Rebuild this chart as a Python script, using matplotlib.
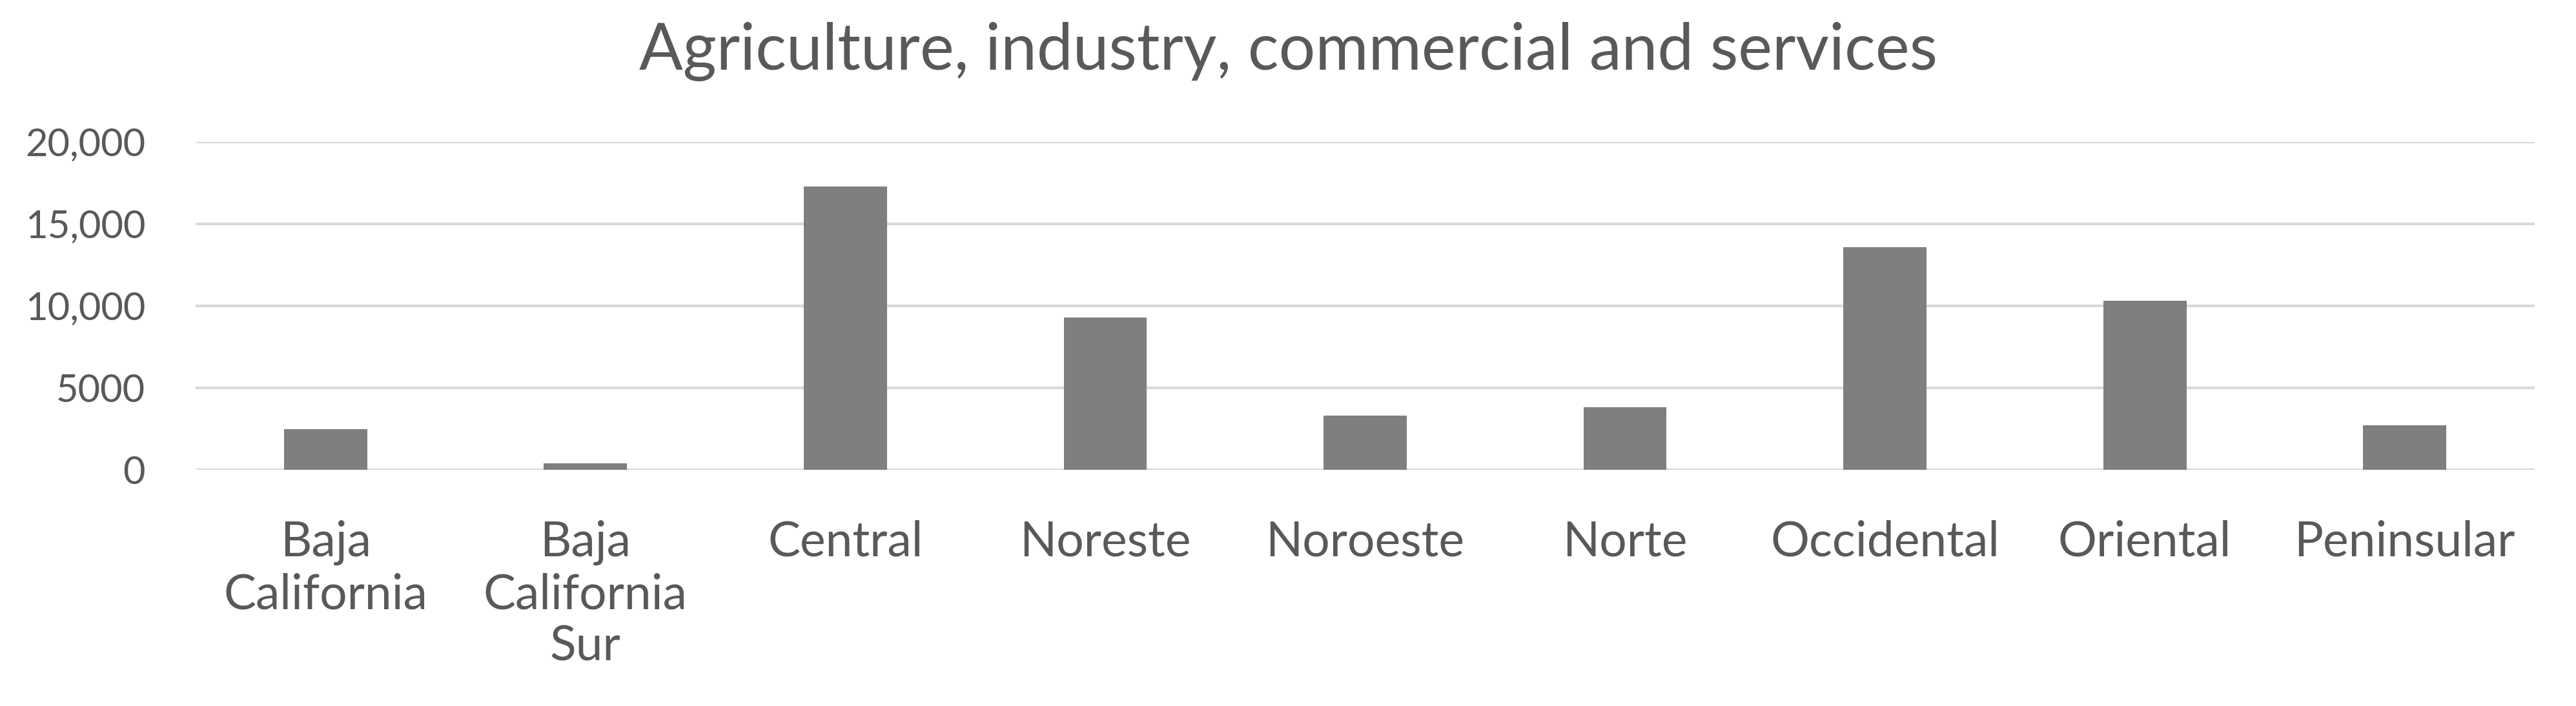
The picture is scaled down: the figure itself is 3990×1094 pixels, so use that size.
import matplotlib.pyplot as plt
from matplotlib.ticker import FixedLocator, FixedFormatter

plt.rcParams['font.family'] = ['Lato', 'DejaVu Sans']

regions = ['Baja\nCalifornia', 'Baja\nCalifornia\nSur', 'Central', 'Noreste', 'Noroeste',
           'Norte', 'Occidental', 'Oriental', 'Peninsular']
values = [2500, 400, 17300, 9300, 3300, 3800, 13600, 10300, 2700]
y_ticks = [0, 5000, 10000, 15000, 20000]
y_labels = ['0', '5000', '10,000', '15,000', '20,000']

text_color = '#595959'

fig = plt.figure(figsize=(39.91, 10.94), dpi=100)
ax = fig.add_axes([303 / 3991, 1 - 728 / 1094, (3926 - 303) / 3991, (728 - 220) / 1094])

x = list(range(len(regions)))
ax.bar(x, values, width=0.32, color='#7f7f7f', zorder=3)

ax.set_xlim(-0.5, len(regions) - 0.5)
ax.set_ylim(0, 20000)
ax.yaxis.set_major_locator(FixedLocator(y_ticks))
ax.yaxis.set_major_formatter(FixedFormatter(y_labels))
ax.set_xticks(x)
ax.set_xticklabels(regions, linespacing=1.2)

ax.grid(axis='y', color='#d9d9d9', linewidth=3, zorder=0)
for s in ax.spines.values():
    s.set_visible(False)
ax.tick_params(axis='both', length=0, labelcolor=text_color)
ax.tick_params(axis='x', labelsize=54, pad=56)
ax.tick_params(axis='y', labelsize=43, pad=56)
for lbl in ax.get_xticklabels():
    lbl.set_verticalalignment('top')

fig.text(0.5, 1 - 80 / 1094, 'Agriculture, industry, commercial and services',
         ha='center', va='center', fontsize=72, color=text_color)

fig.savefig('out.png', dpi=100)
